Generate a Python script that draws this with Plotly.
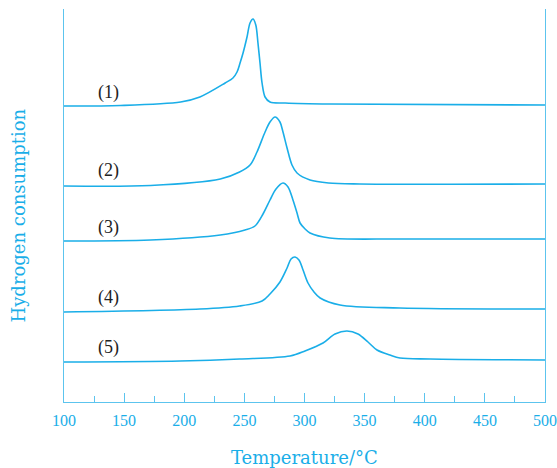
import plotly.graph_objects as go

# Temperature (°C) and signal (arbitrary units, offset per curve)
t1 = [100, 147, 197, 213, 234, 240.5, 243.9, 246.4, 248.9, 252.2, 254.7, 257.2, 259.5, 261.3, 263.0, 264.7, 267.2, 271.3, 284, 321, 500]
s1 = [296, 296.5, 300, 305, 319, 324, 330, 339, 349, 365, 379, 383, 377, 359, 339, 319, 305, 300, 299, 298, 297]

t2 = [100, 172, 230, 246, 254.7, 260.5, 267.2, 271.3, 275.5, 279.6, 282.1, 285.5, 289.6, 293.8, 304.6, 320, 346, 500]
s2 = [216, 216.5, 223, 230, 237, 250, 270, 280, 285, 280, 270, 254, 237, 229, 222, 219, 218, 218]

t3 = [100, 172, 230, 250.5, 258.8, 265.5, 271.3, 276.3, 282.1, 286.3, 290.4, 293.8, 296.3, 300.5, 304.6, 321, 379, 500]
s3 = [161, 162, 167, 172, 176, 188, 202, 213, 219, 215, 202, 189, 179, 173, 169, 164, 163, 163]

t4 = [100, 213, 246, 264.7, 271.3, 279.6, 285.5, 288.8, 292.1, 295.4, 298.8, 302.9, 307.9, 313, 329.5, 379, 500]
s4 = [90, 93, 96, 101, 108, 120, 134, 143, 145, 142, 132, 119, 110, 104, 97, 94, 93]

t5 = [100, 196.5, 246, 288, 300.4, 315.4, 325.4, 335.3, 344.5, 352.8, 360.3, 371, 379.4, 404.4, 500]
s5 = [40, 41, 43, 46, 51, 59, 68, 71, 68, 60, 52, 47, 44, 43, 42]

labels = ["(1)", "(2)", "(3)", "(4)", "(5)"]
label_t = [137, 137, 137, 137, 137]
label_s = [310, 232, 175, 105, 55]

x_ticks = [100, 150, 200, 250, 300, 350, 400, 450, 500]

BLUE = "#1aaee8"
AXIS = "#5cc4ee"

fig = go.Figure()
for t, s in [(t1, s1), (t2, s2), (t3, s3), (t4, s4), (t5, s5)]:
    fig.add_trace(go.Scatter(x=t, y=s, mode="lines",
                             line=dict(color=BLUE, width=1.6, shape="spline", smoothing=0.9),
                             showlegend=False, hoverinfo="skip"))

for lab, lt, ls in zip(labels, label_t, label_s):
    fig.add_annotation(x=lt, y=ls, text=lab, showarrow=False, xref="x", yref="y",
                       font=dict(family="Liberation Serif", size=18, color="#222222"))

fig.add_annotation(x=0.5, y=0, xref="paper", yref="paper", yshift=-55, yanchor="middle",
                   text="Temperature/°C",
                   showarrow=False, font=dict(family="DejaVu Serif", size=18, color=BLUE))
fig.add_annotation(x=0, y=0.5, xref="paper", yref="paper", xshift=-46, yshift=-10,
                   xanchor="center", yanchor="middle",
                   text="Hydrogen consumption", textangle=-90,
                   showarrow=False, font=dict(family="DejaVu Serif", size=18, color=BLUE))

fig.update_layout(
    width=557, height=468,
    margin=dict(l=64, r=12, t=9, b=66),
    plot_bgcolor="white", paper_bgcolor="white",
    xaxis=dict(range=[100, 500], tickvals=x_ticks, ticktext=[str(v) for v in x_ticks],
               ticks="inside", ticklen=9, tickcolor=AXIS, tickwidth=1.2,
               showline=True, linecolor=AXIS, linewidth=1.3, mirror=False,
               showgrid=False, zeroline=False, ticklabelstandoff=4, automargin=False,
               ticklabeloverflow="allow",
               tickfont=dict(family="Liberation Serif", size=16, color=BLUE),
               minor=dict(dtick=25, tick0=100, ticks="inside", ticklen=6, tickcolor=AXIS, tickwidth=1.2, showgrid=False)),
    yaxis=dict(range=[0, 393], showticklabels=False, ticks="", automargin=False,
               showline=True, linecolor=AXIS, linewidth=1.3, mirror=True,
               showgrid=False, zeroline=False),
)

fig.write_html("out.html", config={"displayModeBar": False},
               post_script="document.body.style.margin='0';document.body.style.overflow='hidden';")
